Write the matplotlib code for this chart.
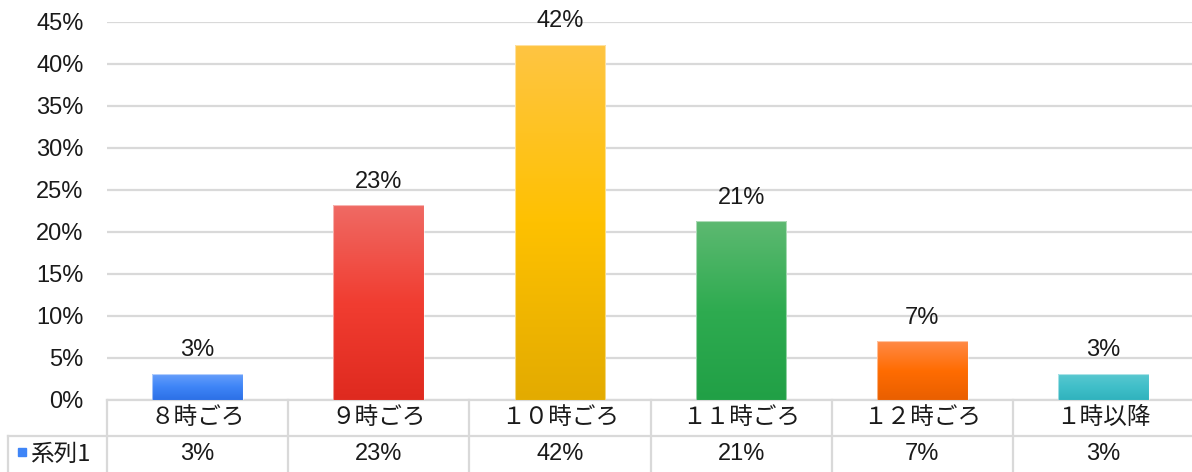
import matplotlib
matplotlib.use('Agg')
import matplotlib.pyplot as plt
import matplotlib.transforms as mtransforms
from matplotlib.colors import LinearSegmentedColormap
from matplotlib.patches import Rectangle
from matplotlib.lines import Line2D
import numpy as np

# data
categories = ['８時ごろ', '９時ごろ', '１０時ごろ', '１１時ごろ', '１２時ごろ', '１時以降']
values = [3.1, 23.2, 42.3, 21.3, 7.0, 3.1]
value_labels = ['3%', '23%', '42%', '21%', '7%', '3%']
series_name = '系列1'
yticks = [0, 5, 10, 15, 20, 25, 30, 35, 40, 45]

# gradient colours per bar (top, middle, bottom)
bar_colors = [
    ('#6aa0fb', '#3f85f7', '#2c70e6'),
    ('#ef6a64', '#f13d31', '#df2a1f'),
    ('#ffc543', '#fec101', '#e3ab00'),
    ('#5db971', '#2eab50', '#21a046'),
    ('#ff8a47', '#ff6c02', '#e95f00'),
    ('#5bc9d1', '#41bfc9', '#30b2bd'),
]

W, H = 1192, 472
fig = plt.figure(figsize=(W / 100, H / 100), dpi=100)
ax = fig.add_axes([107 / W, 72 / H, 1087 / W, 378 / H])

jp = ['Noto Sans CJK JP', 'DejaVu Sans']
num = ['Liberation Sans', 'DejaVu Sans']
txt_color = '#1a1a1a'
grid_color = '#d9d9d9'
fs_num = 17
fs_jp = 17

x = np.arange(len(categories))
bars = ax.bar(x, values, width=0.5, color='none', edgecolor='none', zorder=3)

for rect, cols, lab in zip(bars, bar_colors, value_labels):
    cmap = LinearSegmentedColormap.from_list('g', [cols[0], cols[1], cols[2]])
    grad = np.linspace(0, 1, 256).reshape(-1, 1)
    bx, bw, bh = rect.get_x(), rect.get_width(), rect.get_height()
    im = ax.imshow(grad, cmap=cmap, aspect='auto', extent=(bx, bx + bw, 0, bh),
                   origin='upper', zorder=3, interpolation='bilinear')
    im.set_clip_path(rect)
    ax.add_patch(Rectangle((bx, 0), bw, bh, facecolor='none', edgecolor='white',
                           alpha=0.5, lw=0.8, zorder=4))
    ax.annotate(lab, (bx + bw / 2, bh), xytext=(0, 9), textcoords='offset points',
                ha='center', va='bottom', fontsize=fs_num, color=txt_color, family=num)

ax.set_xlim(-0.5, len(categories) - 0.5)
ax.set_ylim(0, 45)
ax.set_yticks(yticks)
ax.set_yticklabels(['%d%%' % v for v in yticks], fontsize=fs_num, color=txt_color, family=num)
ax.set_xticks([])
ax.tick_params(axis='y', length=0, pad=17)
ax.grid(axis='y', color=grid_color, lw=1.6, zorder=0)
ax.set_axisbelow(True)
for s in ax.spines.values():
    s.set_visible(False)

# data table below the axis
trans = mtransforms.blended_transform_factory(ax.transData, ax.transAxes)
ah = 378.0
row1 = -18 / ah
row2 = -54 / ah
for i, (cat, lab) in enumerate(zip(categories, value_labels)):
    ax.text(i, row1, cat, transform=trans, ha='center', va='center', fontsize=fs_jp,
            color=txt_color, family=jp, clip_on=False)
    ax.text(i, row2, lab, transform=trans, ha='center', va='center', fontsize=fs_num,
            color=txt_color, family=num, clip_on=False)
for b in np.arange(len(categories) + 1) - 0.5:
    ax.add_line(Line2D([b, b], [0, -72 / ah], transform=trans, color=grid_color,
                       lw=1.6, clip_on=False))
ax.add_line(Line2D([-0.5, len(categories)], [0, 0], transform=trans, color=grid_color,
                   lw=1.6, clip_on=False))

# left header cell with legend key
fx0 = 8 / W
fig.add_artist(Line2D([fx0, 1], [36 / H, 36 / H], color=grid_color, lw=1.6))
fig.add_artist(Line2D([fx0, fx0], [0, 36 / H], color=grid_color, lw=1.6))
fig.add_artist(Rectangle((18 / W, 16 / H), 8 / W, 8 / H, color=bar_colors[0][1]))
fig.text(30 / W, 18 / H, series_name, ha='left', va='center', fontsize=fs_jp,
         color=txt_color, family=jp)

fig.savefig('out.png', dpi=100)
